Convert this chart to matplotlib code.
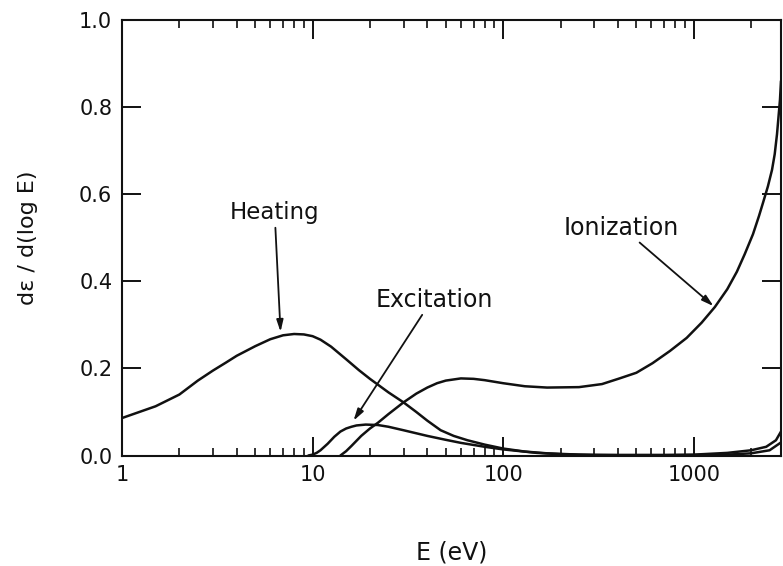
import matplotlib
matplotlib.use("Agg")
import matplotlib.pyplot as plt
from matplotlib.ticker import FixedLocator, FixedFormatter, NullLocator

# Energy deposition fractions per logarithmic energy interval
heating_E = [1, 1.5, 2, 2.5, 3, 3.5, 4, 5, 6, 7, 8, 9, 10, 11, 12.5, 15,
             17.5, 20, 25, 30, 35, 40, 47, 55, 65, 80, 100, 130, 170, 250,
             400, 700, 1000, 1500, 2000, 2400, 2700, 2870]
heating = [0.086, 0.113, 0.14, 0.172, 0.195, 0.213, 0.229, 0.251, 0.267,
           0.276, 0.279, 0.278, 0.274, 0.266, 0.25, 0.221, 0.196, 0.176,
           0.145, 0.122, 0.1, 0.08, 0.058, 0.045, 0.035, 0.025, 0.016, 0.009,
           0.005, 0.002, 0.001, 0.001, 0.002, 0.006, 0.012, 0.02, 0.035,
           0.055]

excitation_E = [9.5, 10, 10.5, 11, 12, 13, 14, 15, 16, 17, 19, 22, 25, 30,
                40, 50, 60, 80, 100, 150, 200, 300, 1000, 1500, 2000, 2500,
                2870]
excitation = [0.0, 0.002, 0.006, 0.012, 0.027, 0.043, 0.055, 0.062, 0.066,
              0.069, 0.071, 0.07, 0.066, 0.058, 0.045, 0.036, 0.029, 0.02,
              0.014, 0.006, 0.003, 0.001, 0.001, 0.002, 0.005, 0.012, 0.03]

ionization_E = [14, 15, 16, 18, 20, 22, 25, 30, 35, 40, 45, 50, 60, 70, 80,
                100, 130, 170, 250, 330, 408, 500, 608, 750, 918, 1100, 1291,
                1500, 1684, 1850, 2045, 2200, 2308, 2450, 2575, 2660, 2735,
                2835, 2870]
ionization = [0.0, 0.01, 0.022, 0.045, 0.062, 0.075, 0.095, 0.122, 0.142,
              0.156, 0.166, 0.172, 0.177, 0.176, 0.173, 0.166, 0.159, 0.156,
              0.157, 0.164, 0.177, 0.19, 0.212, 0.24, 0.27, 0.305, 0.341,
              0.382, 0.422, 0.462, 0.508, 0.55, 0.58, 0.618, 0.656, 0.692,
              0.738, 0.817, 0.86]

x_ticks = [1, 10, 100, 1000]
x_tick_labels = ["1", "10", "100", "1000"]
y_ticks = [0.0, 0.2, 0.4, 0.6, 0.8, 1.0]
y_tick_labels = ["0.0", "0.2", "0.4", "0.6", "0.8", "1.0"]

ink = "#111111"
plt.rcParams["font.family"] = ["DejaVu Sans"]

fig = plt.figure(figsize=(7.83, 5.66), dpi=100)
W, H = 783, 566
x0, x1, y0, y1 = 122, 781, 455.5, 20
ax = fig.add_axes([x0 / W, (H - y0) / H, (x1 - x0) / W, (y0 - y1) / H])

ax.set_xscale("log")
ax.set_xlim(1, 2870)
ax.set_ylim(0, 1.0)

for E, v in ((heating_E, heating), (excitation_E, excitation),
             (ionization_E, ionization)):
    ax.plot(E, v, color=ink, lw=1.8, solid_joinstyle="round",
            solid_capstyle="round")

# Axis ticks: inward on every side
ax.xaxis.set_major_locator(FixedLocator(x_ticks))
ax.xaxis.set_major_formatter(FixedFormatter(x_tick_labels))
minor = [m * 10 ** d for d in range(0, 4) for m in range(2, 10)]
ax.xaxis.set_minor_locator(FixedLocator(minor))
ax.yaxis.set_major_locator(FixedLocator(y_ticks))
ax.yaxis.set_major_formatter(FixedFormatter(y_tick_labels))
ax.yaxis.set_minor_locator(NullLocator())

ax.tick_params(which="major", direction="in", length=13.5, width=1.4,
               top=True, right=True, labelsize=15, colors=ink, pad=7)
ax.tick_params(which="minor", direction="in", length=5.5, width=1.2,
               top=True, right=True, colors=ink)
for s in ax.spines.values():
    s.set_linewidth(1.5)
    s.set_color(ink)

ax.set_xlabel("E (eV)", fontsize=17, color=ink)
ax.xaxis.set_label_coords(0.5, -0.195)
ax.set_ylabel("dε / d(log E)", fontsize=16, color=ink)
ax.yaxis.set_label_coords(-0.128, 0.5)

# Curve labels with pointer arrows
arrow = dict(arrowstyle="-|>,head_length=0.7,head_width=0.2", color=ink,
             lw=1.3, shrinkA=0, shrinkB=0)
ax.text(6.3, 0.557, "Heating", fontsize=16.5, ha="center", va="center",
        color=ink)
ax.annotate("", xy=(6.79, 0.284), xytext=(6.38, 0.523), arrowprops=arrow)

ax.text(43.3, 0.357, "Excitation", fontsize=17, ha="center", va="center",
        color=ink)
ax.annotate("", xy=(16.4, 0.08), xytext=(37.6, 0.323), arrowprops=arrow)

ax.text(418, 0.523, "Ionization", fontsize=17, ha="center", va="center",
        color=ink)
ax.annotate("", xy=(1270, 0.343), xytext=(520, 0.489), arrowprops=arrow)

fig.savefig("out.png", dpi=100, facecolor="white")
